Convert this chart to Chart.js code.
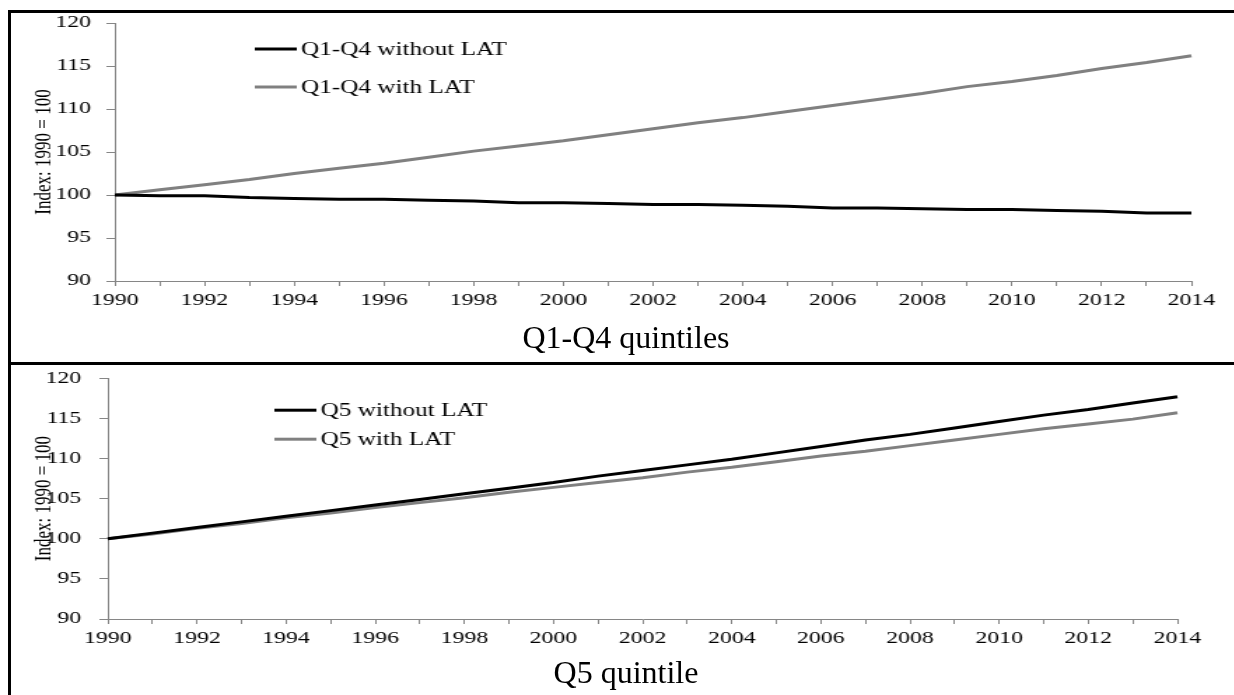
<!DOCTYPE html>
<html>
<head>
<meta charset="utf-8">
<script src="https://cdn.jsdelivr.net/npm/chart.js@4.4.1/dist/chart.umd.min.js"></script>
<style>
	html, body {margin: 0; padding: 0; overflow: hidden;}
	body {width: 1234px; height: 695px; position: relative; background: #fff;
		font-family: "Liberation Serif", "Times New Roman", serif;}
	.rule {position: absolute; background: #000;}
	/* the original figure is stretched sideways, so the charts are too */
	.panel {position: absolute; left: 0; width: 881px; transform: scaleX(1.4); transform-origin: 0 0;}
	.caption {position: absolute; left: 326px; width: 600px; text-align: center;
		font-size: 32px; line-height: 32px; color: #000;}
</style>
</head>
<body>
<div class="rule" style="left:8px;top:10px;width:1226px;height:3px"></div>
<div class="rule" style="left:8px;top:10px;width:3px;height:685px"></div>
<div class="rule" style="left:8px;top:362px;width:1226px;height:3px"></div>

<div class="panel" style="top:0;height:320px"><canvas id="chart-top" width="881" height="320"></canvas></div>
<div class="caption" style="top:321px">Q1-Q4 quintiles</div>

<div class="panel" style="top:355px;height:300px"><canvas id="chart-bottom" width="881" height="300"></canvas></div>
<div class="caption" style="top:656px">Q5 quintile</div>

<script>
var years = ['1990', '1991', '1992', '1993', '1994', '1995', '1996', '1997', '1998', '1999', '2000', '2001',
	'2002', '2003', '2004', '2005', '2006', '2007', '2008', '2009', '2010', '2011', '2012', '2013', '2014'];

var q14Without = [100, 99.9, 99.9, 99.7, 99.6, 99.5, 99.5, 99.4, 99.3, 99.1, 99.1, 99.0,
	98.9, 98.9, 98.8, 98.7, 98.5, 98.5, 98.4, 98.3, 98.3, 98.2, 98.1, 97.9, 97.9];
var q14With = [100, 100.6, 101.2, 101.8, 102.5, 103.1, 103.7, 104.4, 105.1, 105.7, 106.3, 107.0,
	107.7, 108.4, 109.0, 109.7, 110.4, 111.1, 111.8, 112.6, 113.2, 113.9, 114.7, 115.4, 116.2];

var q5Without = [100, 100.7, 101.4, 102.1, 102.8, 103.5, 104.2, 104.9, 105.6, 106.3, 107.0, 107.8,
	108.5, 109.2, 109.9, 110.7, 111.5, 112.3, 113.0, 113.8, 114.6, 115.4, 116.1, 116.9, 117.7];
var q5With = [100, 100.6, 101.3, 101.9, 102.6, 103.2, 103.9, 104.5, 105.1, 105.8, 106.4, 107.0,
	107.6, 108.3, 108.9, 109.6, 110.3, 110.9, 111.6, 112.3, 113.0, 113.7, 114.3, 114.9, 115.7];

var yTitle = 'Index: 1990 = 100';
var font = 'Liberation Serif';
var axisGrey = '#868686';

Chart.defaults.font.family = font;
Chart.defaults.color = '#000';

// legend sits inside the plot area, like the Excel original
var insideLegend = {
	id: 'insideLegend',
	afterDraw: function (chart, args, opts) {
		var ctx = chart.ctx,
			area = chart.chartArea;
		ctx.save();
		ctx.font = '18px "Liberation Serif"';
		ctx.textBaseline = 'middle';
		chart.data.datasets.forEach(function (ds, i) {
			var x = area.left + opts.x,
				y = area.top + opts.y + i * opts.gap;
			ctx.strokeStyle = ds.borderColor;
			ctx.lineWidth = ds.borderWidth;
			ctx.beginPath();
			ctx.moveTo(x, y);
			ctx.lineTo(x + 30, y);
			ctx.stroke();
			ctx.fillStyle = '#000';
			ctx.fillText(ds.label, x + 33, y + 1);
		});
		ctx.restore();
	}
};

function makeChart(o) {
	return new Chart(document.getElementById(o.id), {
		type: 'line',
		data: {
			labels: years,
			datasets: [
				{label: o.names[0], data: o.black, borderColor: '#000', borderWidth: 3, pointRadius: 0, tension: 0},
				{label: o.names[1], data: o.grey, borderColor: '#808080', borderWidth: 3, pointRadius: 0, tension: 0}
			]
		},
		plugins: [insideLegend],
		options: {
			responsive: false,
			animation: false,
			layout: {padding: {top: o.padTop, right: o.padRight, left: 0, bottom: 0}},
			plugins: {
				legend: {display: false},
				tooltip: {enabled: false},
				insideLegend: o.legend
			},
			scales: {
				x: {
					type: 'category',
					offset: false,
					afterFit: function (scale) { scale.height = o.xHeight; },
					grid: {drawOnChartArea: false, color: axisGrey, tickLength: 5},
					border: {color: axisGrey},
					ticks: {
						autoSkip: false, maxRotation: 0, padding: 4,
						font: {size: 17},
						callback: function (v, i) { return i % 2 === 0 ? years[i] : ''; }
					}
				},
				y: {
					min: 90, max: 120,
					afterFit: function (scale) { scale.width = o.yWidth; },
					grid: {drawOnChartArea: false, color: axisGrey, tickLength: 6},
					border: {color: axisGrey},
					ticks: {stepSize: 5, padding: o.yPad, font: {size: 17}},
					title: {display: true, text: yTitle, font: {size: 17}, padding: {top: 21, bottom: 0}}
				}
			}
		}
	});
}

makeChart({
	id: 'chart-top',
	names: ['Q1-Q4 without LAT', 'Q1-Q4 with LAT'],
	black: q14Without,
	grey: q14With,
	padTop: 23, padRight: 30,
	yWidth: 82, yPad: 11, xHeight: 39,
	legend: {x: 100, y: 26, gap: 38}
});

makeChart({
	id: 'chart-bottom',
	names: ['Q5 without LAT', 'Q5 with LAT'],
	black: q5Without,
	grey: q5With,
	padTop: 20, padRight: 40,
	yWidth: 77, yPad: 13, xHeight: 36,
	legend: {x: 119, y: 32, gap: 29}
});
</script>
</body>
</html>
